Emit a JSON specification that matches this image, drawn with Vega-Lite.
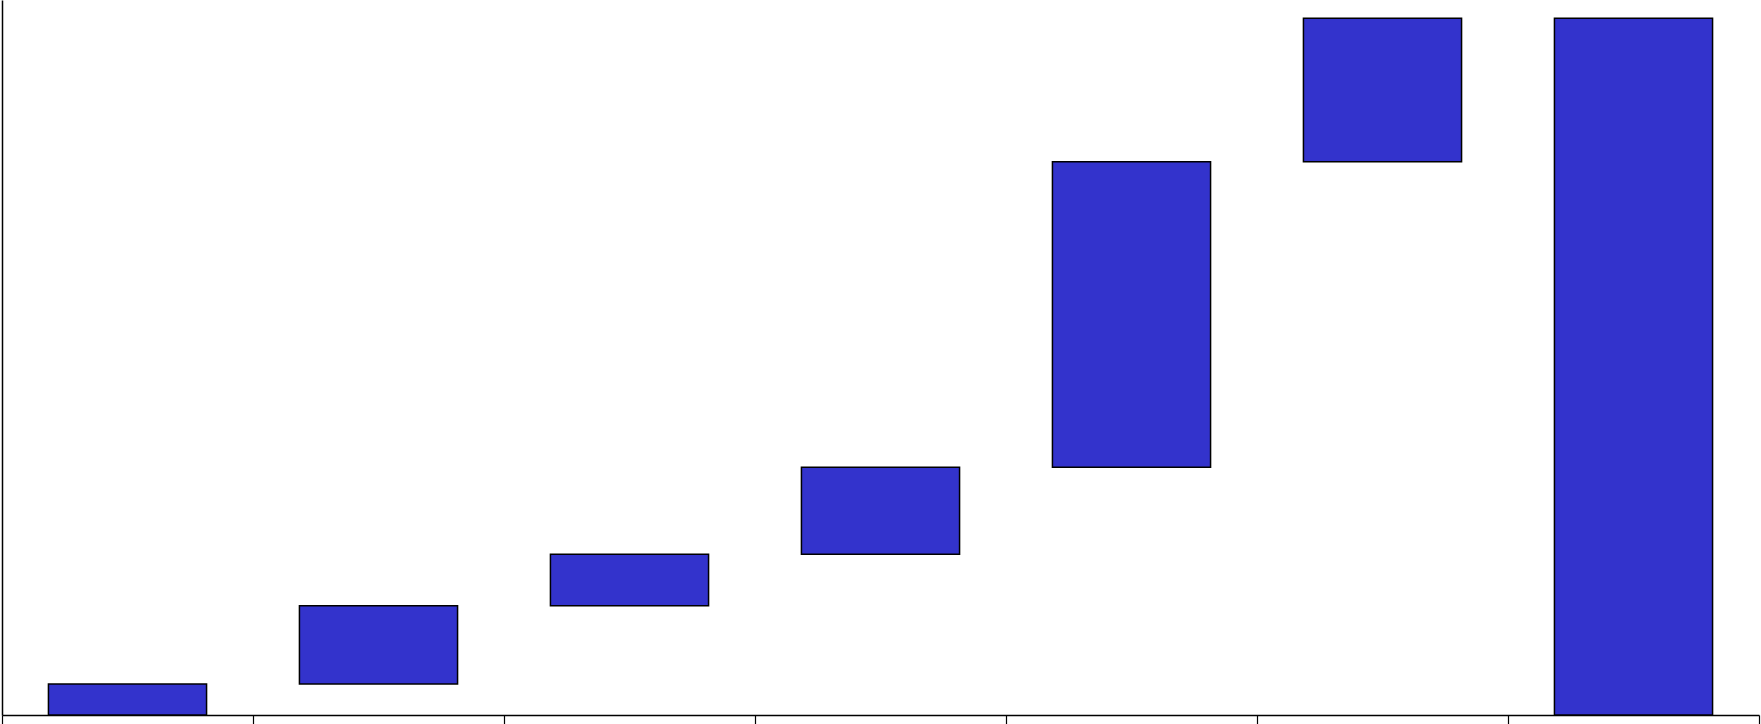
{
  "$schema": "https://vega.github.io/schema/vega-lite/v6.json",
  "autosize": {"type": "none"},
  "padding": {"left": 2, "top": 0, "right": 2, "bottom": 9},
  "width": 1757,
  "height": 715,
  "background": "white",
  "config": {"view": {"stroke": null}},
  "data": {
    "values": [
      {"step": "A", "start": 0, "end": 31},
      {"step": "B", "start": 31, "end": 109.3},
      {"step": "C", "start": 109.3, "end": 160.7},
      {"step": "D", "start": 160.7, "end": 247.7},
      {"step": "E", "start": 247.7, "end": 553.3},
      {"step": "F", "start": 553.3, "end": 696.7},
      {"step": "G", "start": 0, "end": 696.7}
    ]
  },
  "mark": {"type": "bar", "fill": "#3333cc", "stroke": "#000000", "strokeWidth": 1.5, "width": {"band": 0.63}},
  "encoding": {
    "x": {
      "field": "step", "type": "nominal", "sort": null,
      "scale": {"paddingInner": 0, "paddingOuter": 0},
      "axis": {"title": null, "labels": false, "tickBand": "extent", "ticks": true, "tickSize": 10, "tickColor": "#000000", "tickWidth": 1.2, "domainColor": "#000000", "domainWidth": 1.5, "grid": false}
    },
    "y": {
      "field": "start", "type": "quantitative",
      "scale": {"domain": [0, 715], "nice": false, "zero": true},
      "axis": {"title": null, "labels": false, "ticks": false, "grid": false, "domainColor": "#000000", "domainWidth": 1.5}
    },
    "y2": {"field": "end"}
  }
}
